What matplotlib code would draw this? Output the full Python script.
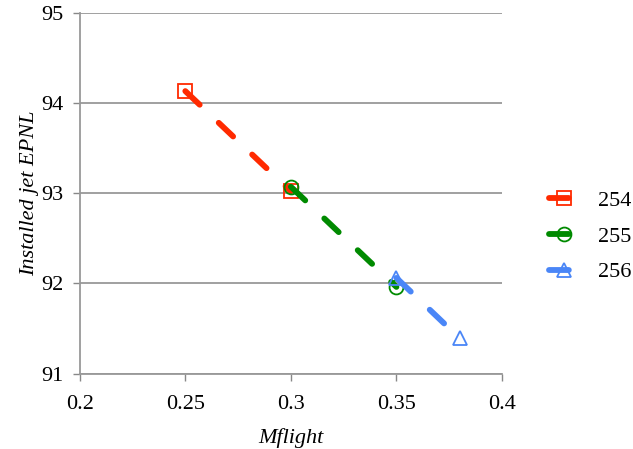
import matplotlib
matplotlib.use("Agg")
import matplotlib.pyplot as plt
from matplotlib.legend_handler import HandlerLine2D

plt.rcParams['font.family'] = ['Liberation Serif', 'DejaVu Serif']

# data
series_names = ['254', '255', '256']
mflight_254 = [0.25, 0.30]
epnl_254 = [94.13, 93.02]
mflight_255 = [0.30, 0.35]
epnl_255 = [93.07, 91.96]
mflight_256 = [0.35, 0.38]
epnl_256 = [92.06, 91.39]

xticks = [0.2, 0.25, 0.3, 0.35, 0.4]
xtick_labels = ['0.2', '0.25', '0.3', '0.35', '0.4']
yticks = [91, 92, 93, 94, 95]


class EndMarker(HandlerLine2D):
    # legend marker sits at the right end of the line sample
    def get_xdata(self, legend, xdescent, ydescent, width, height, fontsize):
        xdata, _ = super().get_xdata(legend, xdescent, ydescent, width, height, fontsize)
        return xdata, [-xdescent + width * 0.82]


fig = plt.figure(figsize=(6.33, 4.49), dpi=100)
ax = fig.add_axes([0.126, 0.168, 0.667, 0.804])

styles = [
    ('#FF2A00', 's'),
    ('#008A00', 'o'),
    ('#4A86F7', '^'),
]
data = [(mflight_254, epnl_254), (mflight_255, epnl_255), (mflight_256, epnl_256)]

for name, (xs, ys), (col, mk) in zip(series_names, data, styles):
    ax.plot(xs, ys, color=col, lw=4.2, dashes=(3.4, 4.5), dash_capstyle='round',
            marker=mk, markersize=10, markerfacecolor='none', markeredgecolor=col,
            markeredgewidth=1.3, label=name, zorder=3)

ax.set_xlim(0.2, 0.4)
ax.set_ylim(91, 95)
ax.set_xticks(xticks)
ax.set_xticklabels(xtick_labels)
ax.set_yticks(yticks)
ax.tick_params(labelsize=16, color='#888888', length=5, width=1)
ax.tick_params(axis='x', pad=10.5)
ax.tick_params(axis='y', pad=6.5)
ax.yaxis.grid(True, color='#999999', lw=1.3)
ax.set_axisbelow(True)
for s in ['top', 'right']:
    ax.spines[s].set_visible(False)
for s in ['left', 'bottom']:
    ax.spines[s].set_color('#999999')
    ax.spines[s].set_linewidth(1.3)

ax.set_xlabel('Mflight', fontsize=16, style='italic', labelpad=10)
ax.set_ylabel('Installed jet EPNL', fontsize=16, style='italic', labelpad=2)

handles, labels = ax.get_legend_handles_labels()
ax.legend(handles, labels, loc='center left', bbox_to_anchor=(1.09, 0.38),
          borderaxespad=0, frameon=False, fontsize=16, handlelength=1.35,
          handletextpad=0.85, labelspacing=0.68,
          handler_map={h: EndMarker(numpoints=1) for h in handles})

fig.savefig('out.png', dpi=100)
